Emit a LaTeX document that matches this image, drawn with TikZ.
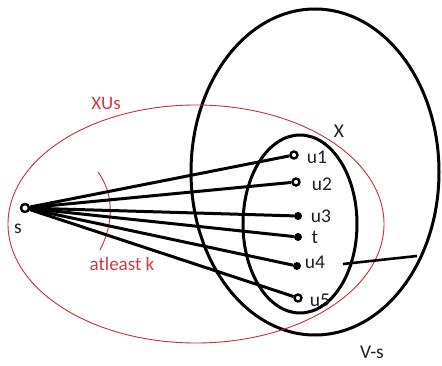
\documentclass[tikz,border=0pt]{standalone}
\usepackage{fontspec}
\setmainfont{Carlito}
\begin{document}
\begin{tikzpicture}[x=1pt,y=-1pt,
  blk/.style={line width=3pt,black},
  redl/.style={line width=0.9pt,draw={rgb,255:red,190;green,50;blue,50}},
  opendot/.style={circle,draw,line width=2.4pt,fill=white,minimum size=8pt,inner sep=0pt},
  fulldot/.style={circle,fill=black,minimum size=8pt,inner sep=0pt},
  lbl/.style={font=\fontsize{19.5}{19.5}\selectfont,text={rgb,255:red,30;green,30;blue,40},inner sep=0pt},
  rlbl/.style={font=\fontsize{16}{16}\selectfont,text={rgb,255:red,215;green,55;blue,65},inner sep=0pt}]
\useasboundingbox (0,0) rectangle (442,366);
% ellipses
\draw[blk] (315,172) ellipse [x radius=124, y radius=163];
\draw[blk] (300,224) ellipse [x radius=57, y radius=89];
\draw[redl] (196,224) ellipse [x radius=188, y radius=119];
% atleast k arc
\draw[redl] (98,172) .. controls (115,195) and (113,225) .. (100,250);
% nodes
\node[opendot] (s) at (25,208) {};
\node[opendot,minimum size=7pt] (u1) at (294,155) {};
\node[opendot,minimum size=7pt] (u2) at (296,182) {};
\node[fulldot] (u3) at (298,216) {};
\node[fulldot] (t) at (298,237) {};
\node[fulldot] (u4) at (297,266) {};
\node[opendot,minimum size=7pt] (u5) at (298,298) {};
% connectors
\foreach \n in {u1,u2,u3,t,u4,u5} \draw[blk] (s) -- (\n);
\coordinate (r1) at (343,264);
\coordinate (r2) at (417,256);
\draw[line width=2.6pt] (r1) -- (r2);
% labels
\node[lbl] (ls) at (18,229) {s};
\node[lbl] (l1) at (317,157) {u1};
\node[lbl] (l2) at (322,184) {u2};
\node[lbl] (l3) at (321,216) {u3};
\node[lbl] (lt) at (315,237) {t};
\node[lbl] (l4) at (315,262) {u4};
\node[lbl] (l5) at (320,300) {u5};
\node[lbl] (lx) at (339,131) {X};
\node[lbl] (lv) at (372,352) {V-s};
\node[rlbl,font=\fontsize{19}{19}\selectfont] (lxus) at (106,103) {XUs};
\node[rlbl,font=\fontsize{19}{19}\selectfont] (lk) at (122,264) {atleast k};
\end{tikzpicture}
\end{document}
